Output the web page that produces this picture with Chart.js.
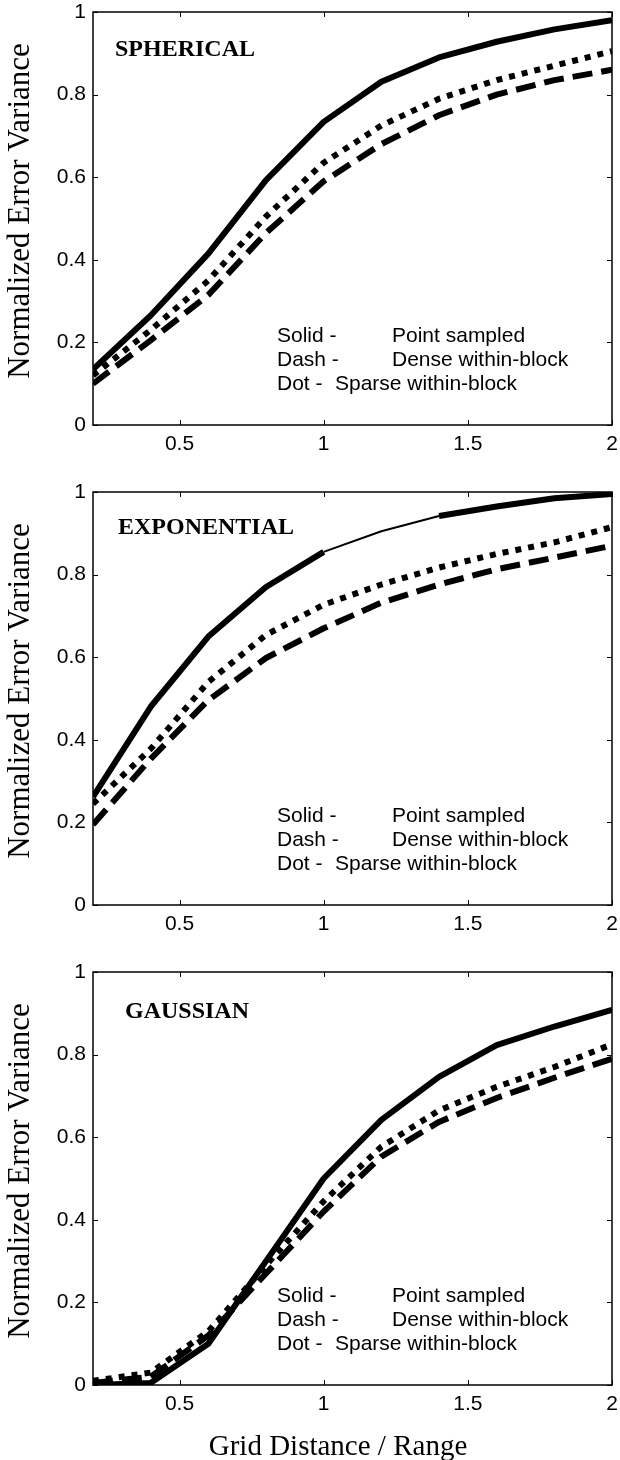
<!DOCTYPE html>
<html>
<head>
<meta charset="utf-8">
<script src="https://cdn.jsdelivr.net/npm/chart.js@4.4.1/dist/chart.umd.min.js"></script>
<style>
  body { margin: 0; background: #fff; }
  #wrap { position: relative; width: 620px; height: 1460px; }
  .panel { position: absolute; left: 0; width: 620px; }
</style>
</head>
<body>
<div id="wrap">
  <div class="panel" style="top:0"><canvas id="c0" width="620" height="480"></canvas></div>
  <div class="panel" style="top:480px"><canvas id="c1" width="620" height="480"></canvas></div>
  <div class="panel" style="top:960px"><canvas id="c2" width="620" height="500"></canvas></div>
</div>
<script>
// grid distance / range
const xValues = [0.2, 0.4, 0.6, 0.8, 1.0, 1.2, 1.4, 1.6, 1.8, 2.0];
const xTicks = [0.5, 1, 1.5, 2];
const yTicks = [0, 0.2, 0.4, 0.6, 0.8, 1];

const panelNames = ['SPHERICAL', 'EXPONENTIAL', 'GAUSSIAN'];
const legendLeft = ['Solid -', 'Dash -', 'Dot -'];
const legendRight = ['Point sampled', 'Dense within-block', 'Sparse within-block'];

// normalized error variance, one array per variogram model and sampling
const sphericalSolid = [0.135, 0.265, 0.415, 0.593, 0.734, 0.831, 0.89, 0.928, 0.958, 0.98];
const sphericalDash  = [0.10, 0.205, 0.315, 0.465, 0.59, 0.68, 0.75, 0.80, 0.835, 0.86];
const sphericalDot   = [0.12, 0.23, 0.35, 0.505, 0.635, 0.725, 0.79, 0.835, 0.87, 0.905];

const exponentialSolid = [0.262, 0.48, 0.65, 0.77, 0.855, 0.905, 0.942, 0.965, 0.985, 0.995];
const exponentialDash  = [0.195, 0.354, 0.496, 0.598, 0.67, 0.732, 0.776, 0.813, 0.841, 0.87];
const exponentialDot   = [0.245, 0.378, 0.54, 0.654, 0.727, 0.776, 0.817, 0.85, 0.878, 0.915];

const gaussianSolid = [0.0, 0.005, 0.10, 0.30, 0.50, 0.642, 0.746, 0.823, 0.868, 0.908];
const gaussianDash  = [0.005, 0.02, 0.12, 0.27, 0.42, 0.553, 0.637, 0.695, 0.744, 0.79];
const gaussianDot   = [0.01, 0.03, 0.13, 0.29, 0.445, 0.577, 0.665, 0.722, 0.77, 0.825];

const SANS = "'Liberation Sans', Arial, sans-serif";
const SERIF = "'Liberation Serif', 'Times New Roman', serif";

// per panel: series and where the model name sits inside the box
const panels = [
  { solid: sphericalSolid, dash: sphericalDash, dot: sphericalDot, nameDx: 22, nameDy: 44 },
  { solid: exponentialSolid, dash: exponentialDash, dot: exponentialDot, nameDx: 25, nameDy: 42, thinFrom: 4, thinTo: 6 },
  { solid: gaussianSolid, dash: gaussianDash, dot: gaussianDot, nameDx: 32, nameDy: 46, xTitle: 'Grid Distance / Range' }
];

function toPoints(values) {
  return values.map((v, i) => ({ x: xValues[i], y: v }));
}

function line(ctx, x1, y1, x2, y2) {
  ctx.beginPath();
  ctx.moveTo(x1, y1);
  ctx.lineTo(x2, y2);
  ctx.stroke();
}

// box with inward ticks on all four sides
const frame = {
  id: 'frame',
  beforeDatasetsDraw(chart) {
    const { ctx, chartArea: a, scales: { x, y } } = chart;
    ctx.save();
    ctx.strokeStyle = '#000';
    ctx.lineWidth = 1.5;
    ctx.strokeRect(a.left, a.top, a.right - a.left, a.bottom - a.top);
    ctx.lineWidth = 1;
    xTicks.forEach(v => {
      const px = Math.round(x.getPixelForValue(v)) + 0.5;
      line(ctx, px, a.bottom, px, a.bottom - 5);
      line(ctx, px, a.top, px, a.top + 5);
    });
    yTicks.forEach(v => {
      const py = Math.round(y.getPixelForValue(v)) + 0.5;
      line(ctx, a.left, py, a.left + 5, py);
      line(ctx, a.right, py, a.right - 5, py);
    });
    ctx.restore();
  }
};

// model name, key text and axis titles
const labels = {
  id: 'labels',
  afterDraw(chart, args, opts) {
    const { ctx, chartArea: a } = chart;
    const p = opts.panel;
    ctx.save();
    ctx.fillStyle = '#000';

    ctx.font = 'bold 24px ' + SERIF;
    ctx.textBaseline = 'alphabetic';
    ctx.textAlign = 'left';
    ctx.fillText(opts.name, a.left + p.nameDx, a.top + p.nameDy);

    ctx.font = '21px ' + SANS;
    legendLeft.forEach((t, i) => ctx.fillText(t, 277, a.top + 330 + i * 24));
    ctx.fillText(legendRight[0], 392, a.top + 330);
    ctx.fillText(legendRight[1], 392, a.top + 354);
    ctx.fillText(legendRight[2], 335, a.top + 378);

    ctx.font = '31px ' + SERIF;
    ctx.textAlign = 'center';
    ctx.translate(29, a.top + 199);
    ctx.rotate(-Math.PI / 2);
    ctx.fillText('Normalized Error Variance', 0, 0);
    ctx.setTransform(1, 0, 0, 1, 0, 0);

    if (p.xTitle) {
      ctx.font = '29px ' + SERIF;
      ctx.fillText(p.xTitle, 338, a.bottom + 70);
    }
    ctx.restore();
  }
};

const tickText = v => String(+v.toFixed(1));

panels.forEach((p, k) => {
  const canvas = document.getElementById('c' + k);
  const axisHeight = canvas.height - 12 - 413;
  const thin = ctx => (p.thinFrom !== undefined && ctx.p0DataIndex >= p.thinFrom && ctx.p1DataIndex <= p.thinTo) ? 2 : undefined;

  new Chart(canvas, {
    type: 'line',
    data: {
      datasets: [
        { label: 'Point sampled', data: toPoints(p.solid), borderWidth: 6, segment: { borderWidth: thin } },
        { label: 'Dense within-block', data: toPoints(p.dash), borderWidth: 6, borderDash: [20, 9] },
        { label: 'Sparse within-block', data: toPoints(p.dot), borderWidth: 6, borderDash: [6, 7] }
      ]
    },
    options: {
      responsive: false,
      animation: false,
      devicePixelRatio: 1,
      layout: { padding: { top: 12, right: 8, left: 0, bottom: 0 } },
      elements: {
        line: { borderColor: '#000', tension: 0, borderCapStyle: 'butt', borderJoinStyle: 'round', fill: false },
        point: { radius: 0 }
      },
      plugins: {
        legend: { display: false },
        tooltip: { enabled: false },
        labels: { name: panelNames[k], panel: p }
      },
      scales: {
        x: {
          type: 'linear',
          min: 0.2,
          max: 2,
          afterBuildTicks: s => { s.ticks = xTicks.map(v => ({ value: v })); },
          afterFit: s => { s.height = axisHeight; s.paddingLeft = 0; s.paddingRight = 0; },
          grid: { display: false, drawTicks: false },
          border: { display: false },
          ticks: { color: '#000', padding: 7, maxRotation: 0, callback: tickText, font: { family: SANS, size: 21 } }
        },
        y: {
          type: 'linear',
          min: 0,
          max: 1,
          afterBuildTicks: s => { s.ticks = yTicks.map(v => ({ value: v })); },
          afterFit: s => { s.width = 93; s.paddingTop = 0; s.paddingBottom = 0; },
          grid: { display: false, drawTicks: false },
          border: { display: false },
          ticks: { color: '#000', padding: 7, callback: tickText, font: { family: SANS, size: 21 } }
        }
      }
    },
    plugins: [frame, labels]
  });
});
</script>
</body>
</html>
